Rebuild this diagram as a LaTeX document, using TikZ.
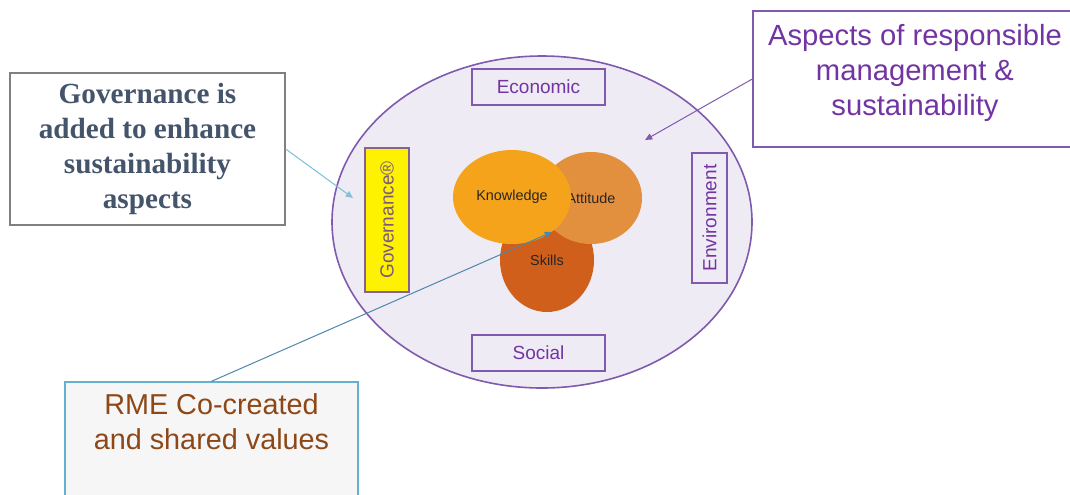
\documentclass[tikz,border=0pt]{standalone}
\usepackage{fontspec}
\setmainfont{Liberation Sans}
\newfontfamily\notefont{Liberation Serif}
\usetikzlibrary{arrows.meta,positioning,shapes.geometric}
\definecolor{lav}{HTML}{EEEBF4}
\definecolor{purp}{HTML}{7F5AAE}
\definecolor{ptext}{HTML}{7234A2}
\definecolor{govedge}{HTML}{86628E}
\definecolor{slate}{HTML}{44546A}
\definecolor{teal}{HTML}{62B2CF}
\definecolor{steel}{HTML}{4F86AE}
\definecolor{brown}{HTML}{8E4818}
\definecolor{know}{HTML}{F6A31C}
\definecolor{att}{HTML}{E3903E}
\definecolor{skill}{HTML}{CF5F1B}

\begin{document}
\begin{tikzpicture}[x=0.5pt,y=-0.5pt,
    aspect/.style={draw=purp, line width=0.8pt, text=ptext, font=\fontsize{9.5}{11}\selectfont, inner sep=0pt},
    blob/.style={ellipse, inner sep=0pt, font=\fontsize{7.2}{8}\selectfont, text=black!85},
    note/.style={draw, line width=0.7pt, align=center, inner sep=0pt},
    arr/.style={-{Triangle[length=3.6pt,width=3.2pt]}, line width=0.5pt}
  ]
  \useasboundingbox (0,0) rectangle (1070,494);
  \node[ellipse, draw=purp, fill=lav, line width=0.8pt, minimum width=210pt, minimum height=166pt, inner sep=0pt] (field) at (542,222) {};
  \node[aspect, minimum width=66.5pt, minimum height=18pt] (eco) at (538.5,87) {Economic};
  \node[aspect, minimum width=66.5pt, minimum height=18pt] (soc) at (538.5,353) {Social};
  \node[aspect, fill=yellow, draw=govedge, text=govedge!90!black, rotate=90, minimum width=72pt, minimum height=22pt] (gov) at (387,220) {Governance®};
  \node[aspect, rotate=90, minimum width=65pt, minimum height=17.5pt] (env) at (709.5,218) {Environment};

  \node[blob, fill=skill, minimum width=47pt, minimum height=52pt] (skills) at (547,260) {Skills};
  \node[blob, fill=att, minimum width=51pt, minimum height=46pt] (att) at (591,198) {Attitude};
  \node[blob, fill=know, minimum width=59pt, minimum height=47pt] (know) at (512,197) {Knowledge};

  \node[note, draw=gray, text=slate, font=\notefont\bfseries\fontsize{14.6}{17.5}\selectfont, minimum width=137.5pt, minimum height=76pt] (govnote) at (147.5,149) {Governance is\\added to enhance\\sustainability\\aspects};
  \node[note, draw=purp, text=ptext, font=\fontsize{14.6}{17.5}\selectfont, minimum width=162pt, minimum height=68pt, text depth=9pt] (aspects) at (915,79) {Aspects of responsible\\management \&\\sustainability};
  \node[note, draw=teal, fill=gray!7, text=brown, font=\fontsize{14.4}{17.5}\selectfont, minimum width=146.5pt, minimum height=64pt, text depth=24pt] (rme) at (211.5,446) {RME Co-created\\and shared values};

  \coordinate (govtip) at (353,198);
  \coordinate (coretip) at (552,232);
  \coordinate (fieldtip) at (645,140);
  \draw[arr, draw=teal!80!white, fill=blue!60!teal] (govnote.east) -- (govtip);
  \draw[arr, draw=steel] (rme.north) -- (coretip);
  \draw[arr, draw=purp] (aspects.west) -- (fieldtip);
\end{tikzpicture}
\end{document}
